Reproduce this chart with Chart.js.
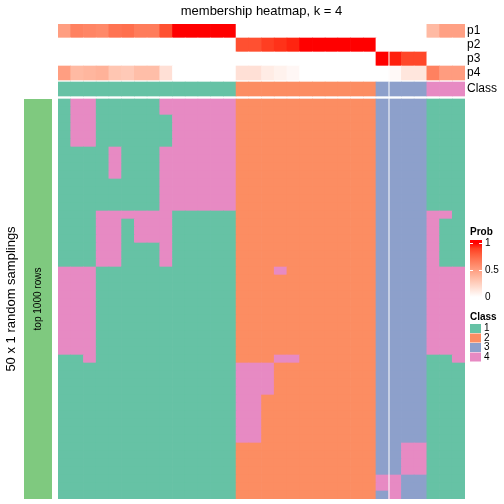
<!DOCTYPE html>
<html>
<head>
<meta charset="utf-8">
<title>membership heatmap, k = 4</title>
<script src="https://cdn.jsdelivr.net/npm/chart.js@4.4.0/dist/chart.umd.min.js"></script>
<style>
    html, body { margin: 0; padding: 0; background: #ffffff; }
    canvas { display: block; }
</style>
</head>
<body>
<canvas id="heatmap" width="504" height="504"></canvas>
<script>
// class of every column (32 samples, already ordered)
const colClass = [1,1,1,1,1,1,1,1,1,1,1,1,1,1, 2,2,2,2,2,2,2,2,2,2,2, 3,3,3,3, 4,4,4];

// membership probabilities per column
const p1 = [0.50,0.64,0.62,0.60,0.70,0.72,0.66,0.66,0.84,1,1,1,1,1, 0,0,0,0,0,0,0,0,0,0,0, 0,0,0,0, 0.36,0.49,0.49];
const p2 = [0,0,0,0,0,0,0,0,0,0,0,0,0,0, 0.84,0.84,0.90,0.93,0.96,1,1,1,1,1,1, 0,0,0,0, 0,0,0];
const p3 = [0,0,0,0,0,0,0,0,0,0,0,0,0,0, 0,0,0,0,0,0,0,0,0,0,0, 1,0.97,0.87,0.87, 0,0,0];
const p4 = [0.50,0.36,0.38,0.40,0.30,0.28,0.34,0.34,0.16,0,0,0,0,0, 0.16,0.16,0.10,0.07,0.04,0,0,0,0,0,0, 0,0.03,0.13,0.13, 0.64,0.51,0.51];

// class assigned in each of the 50 random samplings (one string per row, top to bottom)
const samplings = [
    '14411111444444 22222222222 3333 111',
    '14411111444444 22222222222 3333 111',
    '14411111144444 22222222222 3333 111',
    '14411111144444 22222222222 3333 111',
    '14411111144444 22222222222 3333 111',
    '14411111144444 22222222222 3333 111',
    '11114111444444 22222222222 3333 111',
    '11114111444444 22222222222 3333 111',
    '11114111444444 22222222222 3333 111',
    '11114111444444 22222222222 3333 111',
    '11111111444444 22222222222 3333 111',
    '11111111444444 22222222222 3333 111',
    '11111111444444 22222222222 3333 111',
    '11111111444444 22222222222 3333 111',
    '11144444411111 22222222222 3333 441',
    '11144144411111 22222222222 3333 411',
    '11144144411111 22222222222 3333 411',
    '11144144411111 22222222222 3333 411',
    '11144111411111 22222222222 3333 411',
    '11144111411111 22222222222 3333 411',
    '11144111411111 22222222222 3333 411',
    '44411111111111 22242222222 3333 444',
    '44411111111111 22222222222 3333 444',
    '44411111111111 22222222222 3333 444',
    '44411111111111 22222222222 3333 444',
    '44411111111111 22222222222 3333 444',
    '44411111111111 22222222222 3333 444',
    '44411111111111 22222222222 3333 444',
    '44411111111111 22222222222 3333 444',
    '44411111111111 22222222222 3333 444',
    '44411111111111 22222222222 3333 444',
    '44411111111111 22222222222 3333 444',
    '11411111111111 22244222222 3333 114',
    '11111111111111 44422222222 3333 111',
    '11111111111111 44422222222 3333 111',
    '11111111111111 44422222222 3333 111',
    '11111111111111 44422222222 3333 111',
    '11111111111111 44222222222 3333 111',
    '11111111111111 44222222222 3333 111',
    '11111111111111 44222222222 3333 111',
    '11111111111111 44222222222 3333 111',
    '11111111111111 44222222222 3333 111',
    '11111111111111 44222222222 3333 111',
    '11111111111111 22222222222 3344 111',
    '11111111111111 22222222222 3344 111',
    '11111111111111 22222222222 3344 111',
    '11111111111111 22222222222 3344 111',
    '11111111111111 22222222222 4433 111',
    '11111111111111 22222222222 4433 111',
    '11111111111111 22222222222 3433 111'
];

const classNames = ['1', '2', '3', '4'];
const probTicks = [0, 0.5, 1];
const annoNames = ['p1', 'p2', 'p3', 'p4', 'Class'];

const classColors = { 1: '#66C2A5', 2: '#FC8D62', 3: '#8DA0CB', 4: '#E78AC3' };
const font = '"Liberation Sans", Arial, Helvetica, sans-serif';

// white -> red, interpolated in CIE Lab like colorRamp2
function probColor(v) {
    const L = 100 + (53.2408 - 100) * v, a = 80.0925 * v, b = 67.2032 * v;
    const fy = (L + 16) / 116, fx = fy + a / 500, fz = fy - b / 200;
    const f = t => t > 6 / 29 ? t * t * t : 3 * (6 / 29) * (6 / 29) * (t - 4 / 29);
    const X = 0.95047 * f(fx), Y = f(fy), Z = 1.08883 * f(fz);
    const lin = [
        3.2406 * X - 1.5372 * Y - 0.4986 * Z,
        -0.9689 * X + 1.8758 * Y + 0.0415 * Z,
        0.0557 * X - 0.2040 * Y + 1.0570 * Z
    ];
    const rgb = lin.map(c => {
        c = c <= 0.0031308 ? 12.92 * c : 1.055 * Math.pow(c, 1 / 2.4) - 0.055;
        return Math.round(Math.min(1, Math.max(0, c)) * 255);
    });
    return 'rgb(' + rgb.join(',') + ')';
}

// build stacked datasets, bottom row first
const rowH = 8, annoH = 14;
const nCol = colClass.length;
const datasets = [];

function band(h, colors) {
    return {
        data: new Array(nCol).fill(h),
        backgroundColor: colors,
        borderWidth: 0,
        inflateAmount: 'auto'
    };
}

const rows = samplings.map(s => s.replace(/ /g, '').split('').map(Number));
for (let r = rows.length - 1; r >= 0; r--) {
    datasets.push(band(rowH, rows[r].map(c => classColors[c])));
}
datasets.push(band(3, 'rgba(0,0,0,0)'));
datasets.push(band(annoH, colClass.map(c => classColors[c])));
datasets.push(band(2, 'rgba(0,0,0,0)'));
[p4, p3, p2, p1].forEach(p => datasets.push(band(annoH, p.map(probColor))));

const totalH = datasets.reduce((s, d) => s + d.data[0], 0);

// split line, titles, row annotation and legends
const decorations = {
    id: 'decorations',
    afterDatasetsDraw(chart) {
        const ctx = chart.ctx;
        const area = chart.chartArea;
        const xs = chart.scales.x;
        ctx.save();

        // white gap between column slices
        const splitX = (xs.getPixelForValue(25) + xs.getPixelForValue(26)) / 2;
        ctx.fillStyle = '#ffffff';
        ctx.fillRect(Math.round(splitX) - 0.5, area.top, 1, area.bottom - area.top);

        const bodyTop = area.bottom - rows.length * rowH;

        // row annotation bar
        ctx.fillStyle = '#7FC97F';
        ctx.fillRect(24, bodyTop, 28, area.bottom - bodyTop);

        ctx.fillStyle = '#000000';
        ctx.textBaseline = 'middle';

        // title
        ctx.textAlign = 'center';
        ctx.font = '13px ' + font;
        ctx.fillText('membership heatmap, k = 4', (area.left + area.right) / 2, 11);

        // rotated row titles
        const midY = (bodyTop + area.bottom) / 2;
        ctx.save();
        ctx.translate(11, midY);
        ctx.rotate(-Math.PI / 2);
        ctx.font = '13px ' + font;
        ctx.fillText('50 x 1 random samplings', 0, 0);
        ctx.restore();
        ctx.save();
        ctx.translate(38, midY);
        ctx.rotate(-Math.PI / 2);
        ctx.font = '10px ' + font;
        ctx.fillText('top 1000 rows', 0, 0);
        ctx.restore();

        // annotation names
        ctx.textAlign = 'left';
        ctx.font = '12px ' + font;
        const annoCenters = [31, 45, 59, 73, 89];
        annoNames.forEach((n, i) => ctx.fillText(n, 467, annoCenters[i]));

        // Prob legend
        ctx.font = 'bold 10px ' + font;
        ctx.fillText('Prob', 470, 232);
        const y0 = 297, y1 = 243;
        const grad = ctx.createLinearGradient(0, y0, 0, y1);
        for (let i = 0; i <= 10; i++) grad.addColorStop(i / 10, probColor(i / 10));
        ctx.fillStyle = grad;
        ctx.fillRect(470, y1 - 3, 12, y0 - y1 + 4);
        ctx.font = '10px ' + font;
        probTicks.forEach(t => {
            const y = Math.round(y0 - t * (y0 - y1)) + 0.5;
            ctx.strokeStyle = '#ffffff';
            ctx.lineWidth = 1;
            ctx.beginPath();
            ctx.moveTo(470, y); ctx.lineTo(473, y);
            ctx.moveTo(479, y); ctx.lineTo(482, y);
            ctx.stroke();
            ctx.fillStyle = '#000000';
            ctx.fillText(String(t), 485, y);
        });

        // Class legend
        ctx.font = 'bold 10px ' + font;
        ctx.fillText('Class', 470, 317);
        ctx.font = '10px ' + font;
        classNames.forEach((n, i) => {
            const y = 324 + i * 9.5;
            ctx.fillStyle = classColors[n];
            ctx.fillRect(470, y, 11, 9);
            ctx.fillStyle = '#000000';
            ctx.fillText(n, 484, y + 4.5);
        });

        ctx.restore();
    }
};

const chart = new Chart(document.getElementById('heatmap'), {
    type: 'bar',
    data: {
        labels: colClass.map((c, i) => 's' + (i + 1)),
        datasets: datasets
    },
    options: {
        responsive: false,
        animation: false,
        layout: { padding: { left: 58, right: 39, top: 24, bottom: 5 } },
        datasets: { bar: { barPercentage: 1, categoryPercentage: 1 } },
        scales: {
            x: { stacked: true, display: false, grid: { display: false } },
            y: { stacked: true, display: false, min: 0, max: totalH, grid: { display: false } }
        },
        plugins: {
            legend: { display: false },
            tooltip: { enabled: false },
            title: { display: false }
        }
    },
    plugins: [decorations]
});
</script>
</body>
</html>
